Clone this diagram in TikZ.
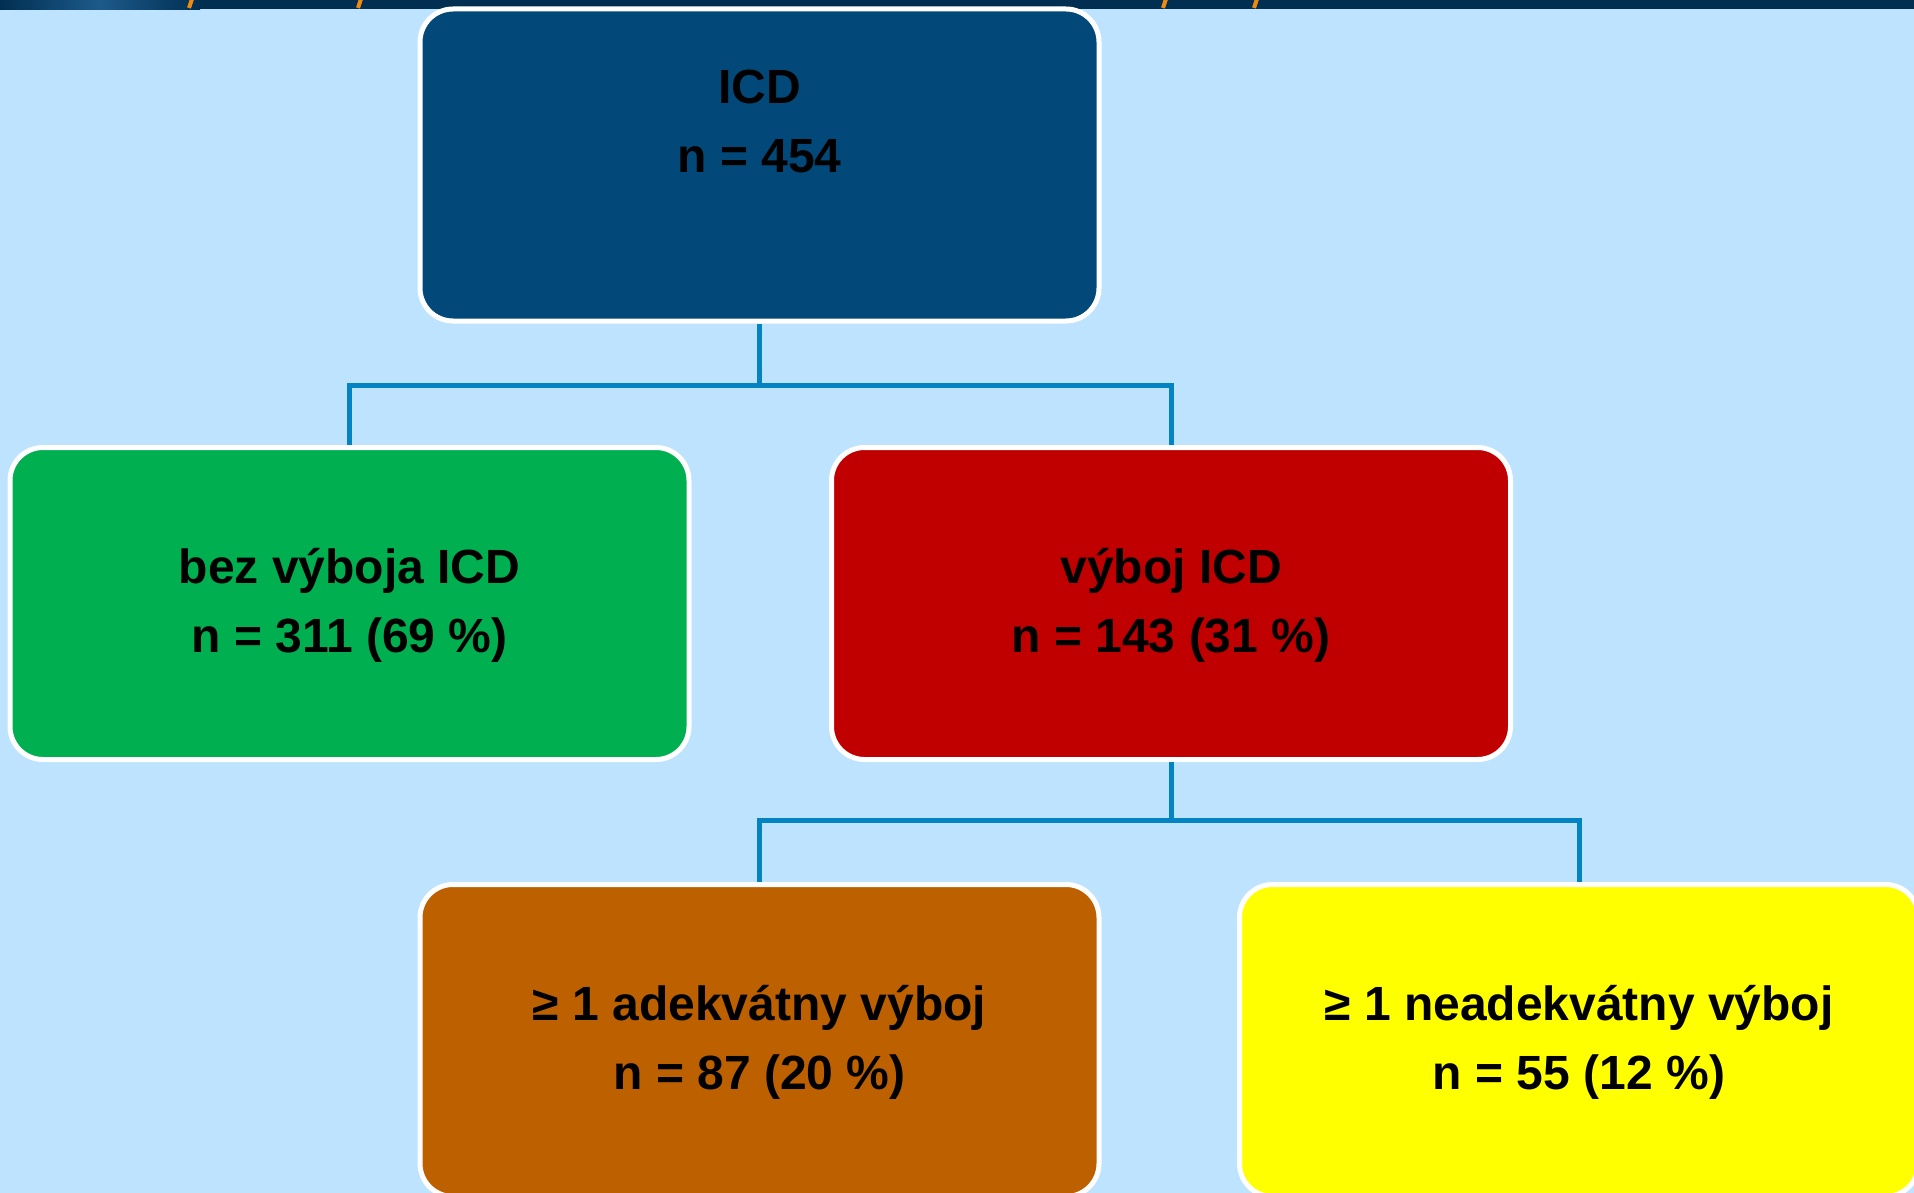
\documentclass[tikz,border=0pt]{standalone}
\usepackage{fontspec}
\setmainfont{Liberation Sans}
\definecolor{bgblue}{HTML}{BDE3FF}
\definecolor{bandnavy}{HTML}{012F52}
\definecolor{bandlight}{HTML}{1D5A8A}
\definecolor{topnavy}{HTML}{02497A}
\definecolor{boxgreen}{HTML}{00AF50}
\definecolor{boxred}{HTML}{C00000}
\definecolor{boxorange}{HTML}{BC6000}
\definecolor{boxyellow}{HTML}{FFFF00}
\definecolor{linkblue}{HTML}{0383C2}
\definecolor{titleorange}{HTML}{F08A10}
\tikzset{
  box/.style={draw=white, line width=5pt, rounded corners=33pt,
    minimum width=679pt, minimum height=312pt, inner sep=0pt},
  txt/.style={anchor=base, inner sep=0pt, text=black,
    font=\fontsize{48}{69}\selectfont\bfseries},
  link/.style={draw=linkblue, line width=5pt},
  titlebit/.style={draw=titleorange, line width=4pt}
}
\begin{document}
\begin{tikzpicture}[x=1pt, y=-1pt]
\useasboundingbox (0,0) rectangle (1914,1193);
\clip (0,0) rectangle (1914,1193);
\fill[bgblue] (0,0) rectangle (1914,1193);
% top band
\fill[bandnavy] (0,0) rectangle (1914,9.5);
\shade[left color=bandnavy, right color=bandnavy, middle color=bandlight] (0,0) rectangle (200,9.5);
\draw[titlebit] (192,-1) -- (189,8);
\draw[titlebit] (361,-1) -- (358,8);
\draw[titlebit] (1166,-1) -- (1163,8);
\draw[titlebit] (1257,-1) -- (1254,8);
% boxes
\node[box, fill=topnavy] (icd) at (759.5,165) {};
\node[box, fill=boxgreen] (nos) at (349.5,603.5) {};
\node[box, fill=boxred] (shock) at (1171,603.5) {};
\node[box, fill=boxorange] (adeq) at (759.5,1040.5) {};
\node[box, fill=boxyellow] (inadeq) at (1579,1040.5) {};
% connectors
\coordinate (j1) at (759.5,385);
\coordinate (j2) at (1171,820);
\draw[link] (icd.south) -- (j1);
\draw[link] (j1) -| (nos.north);
\draw[link] (j1) -| (shock.north);
\draw[link] (shock.south) -- (j2);
\draw[link] (j2) -| (adeq.north);
\draw[link] (j2) -| (inadeq.north);
% texts
\node[txt] (icd1) at ([yshift=-97pt]icd.north) {ICD};
\node[txt] (icd2) at ([yshift=-166pt]icd.north) {n = 454};
\node[txt] (nos1) at ([yshift=20.5pt]nos.center) {bez výboja ICD};
\node[txt] (nos2) at ([yshift=-48.5pt]nos.center) {n = 311 (69 \%)};
\node[txt] (shock1) at ([yshift=20.5pt]shock.center) {výboj ICD};
\node[txt] (shock2) at ([yshift=-48.5pt]shock.center) {n = 143 (31 \%)};
\node[txt] (adeq1) at ([yshift=20.5pt]adeq.center) {≥ 1 adekvátny výboj};
\node[txt] (adeq2) at ([yshift=-49pt]adeq.center) {n = 87 (20 \%)};
\node[txt] (inadeq1) at ([yshift=20.5pt]inadeq.center) {≥ 1 neadekvátny výboj};
\node[txt] (inadeq2) at ([yshift=-49pt]inadeq.center) {n = 55 (12 \%)};
\end{tikzpicture}
\end{document}
